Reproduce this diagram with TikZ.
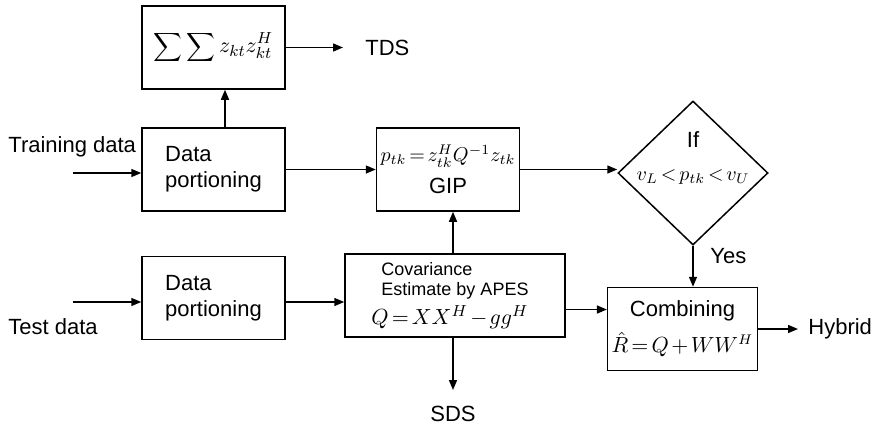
\documentclass[tikz,border=0pt]{standalone}
\usepackage[no-math]{fontspec}
\setmainfont{Liberation Sans}
\usetikzlibrary{positioning}
\usetikzlibrary{arrows.meta}
\usetikzlibrary{shapes.geometric}

\newcommand{\tightmath}{\thickmuskip=2.5mu\medmuskip=2mu}

\begin{document}
\begin{tikzpicture}[x=0.5pt,y=-0.5pt,
	block/.style={draw,line width=0.75pt,minimum width=71.5pt,minimum height=41.5pt,inner sep=2pt,align=left,font=\fontsize{11}{13}\selectfont\tightmath},
	decision/.style={draw,diamond,line width=0.75pt,minimum width=75pt,minimum height=72pt,inner sep=0pt},
	lbl/.style={inner sep=0pt,font=\fontsize{11}{13}\selectfont\tightmath},
	flow/.style={line width=0.75pt,-{Triangle[length=5pt,width=4pt]}}]
	    \useasboundingbox (0,0) rectangle (883,425);
	    \node(sum) [block,align=center] at (213.5,47.5) {$\displaystyle\sum\sum z_{kt}z_{kt}^{H}$};
	    \node(dptrain) [block] at (213.5,169.5) {Data\\portioning};
	    \node(gip) [block,align=center] at (448,169.5) {{\fontsize{10}{12}\selectfont$p_{tk}=z_{tk}^{H}Q^{-1}z_{tk}$}\\[3pt]GIP};
	    \node(cond) [decision] at (693,173) {};
	    \node(iftext) [lbl] at (693,140) {If};
	    \node(range) [lbl,font=\fontsize{10}{12}\selectfont\tightmath] at (693,177) {$v_{L}<p_{tk}<v_{U}$};
	    \node(dptest) [block] at (213.5,298) {Data\\portioning};
	    \node(cov) [block,minimum width=110pt,font=\fontsize{9}{10}\selectfont\tightmath] at (455,295.5) {Covariance\\Estimate by APES\\[2pt]\hspace*{-5pt}{\fontsize{11}{13}\selectfont$Q=XX^{H}-gg^{H}$}};
	    \node(comb) [block,align=center] at (682.5,329) {Combining\\[5pt]{\fontsize{10.5}{12}\selectfont$\hat{R}=Q+WW^{H}$}};
	    \coordinate(trainin) at (73,173);
	    \coordinate(testin) at (73,302);
	    \coordinate(tdsend) at (343,47.5);
	    \coordinate(hybend) at (798,329);
	    \coordinate(sdsend) at (453,390);
	    \node(trainlbl) [lbl,anchor=west] at (8,147) {Training data};
	    \node(testlbl) [lbl,anchor=west] at (8,327) {Test data};
	    \node(tds) [lbl,right=11pt of tdsend] {TDS};
	    \node(hybrid) [lbl,right=5pt of hybend] {Hybrid};
	    \node(sds) [lbl,below=8pt of sdsend] {SDS};
	    \node(yes) [lbl,anchor=north west] at ([xshift=8.5pt,yshift=-1pt]cond.south) {Yes};
	    \draw[flow] (trainin) -- (trainin -| dptrain.west);
	    \draw[flow] ([xshift=5.75pt]dptrain.north) -- ([xshift=5.75pt]dptrain.north |- sum.south);
	    \draw[flow] (sum) -- (tdsend);
	    \draw[flow] (dptrain) -- (gip);
	    \draw[flow] (gip.east) -- (gip.east -| cond.west);
	    \draw[flow] (cond.south) -- (cond.south |- comb.north);
	    \draw[flow] (testin) -- (testin -| dptest.west);
	    \draw[flow] (dptest.east |- testin) -- (cov.west |- testin);
	    \draw[flow] ([xshift=-1pt]cov.north) -- ([xshift=-1pt]cov.north |- gip.south);
	    \draw[flow] ([yshift=-7pt]cov.east) -- ([yshift=-7pt]cov.east -| comb.west);
	    \draw[flow] (comb) -- (hybend);
	    \draw[flow] ([xshift=-1pt]cov.south) -- (sdsend);
	  \end{tikzpicture}
\end{document}
